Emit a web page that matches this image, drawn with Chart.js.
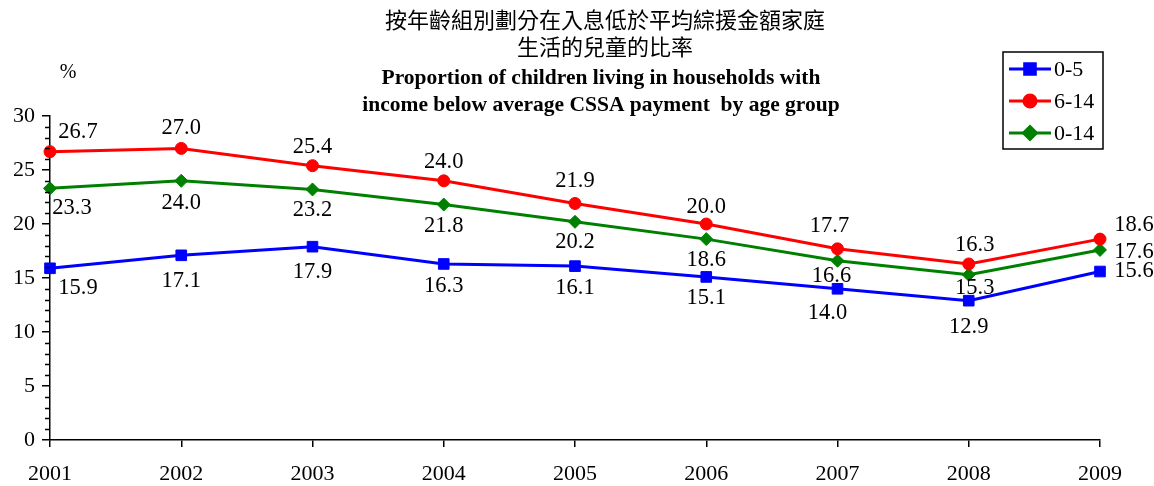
<!DOCTYPE html>
<html>
<head>
<meta charset="utf-8">
<script src="https://cdn.jsdelivr.net/npm/chart.js@4"></script>
<style>
  body { margin: 0; background: #fff; }
  #wrap { width: 1154px; height: 486px; position: relative; }
</style>
</head>
<body>
<div id="wrap"><canvas id="ageChart"></canvas></div>
<script>
const years = ['2001', '2002', '2003', '2004', '2005', '2006', '2007', '2008', '2009'];
const age0to5 = [15.9, 17.1, 17.9, 16.3, 16.1, 15.1, 14.0, 12.9, 15.6];
const age6to14 = [26.7, 27.0, 25.4, 24.0, 21.9, 20.0, 17.7, 16.3, 18.6];
const age0to14 = [23.3, 24.0, 23.2, 21.8, 20.2, 18.6, 16.6, 15.3, 17.6];

// where each value label sits relative to its point [dx, dy]
const labelShift = [
    [[28, 20], [0, 26], [0, 25], [0, 22], [0, 22], [0, 21], [-10, 24], [0, 26], [34, 0]],
    [[28, -20], [0, -20], [0, -19], [0, -19], [0, -22], [0, -17], [-8, -23], [6, -19], [34, -14]],
    [[22, 20], [0, 22], [0, 21], [0, 22], [0, 20], [0, 21], [-6, 15], [6, 13], [34, 2]]
];

const serif = '"Liberation Serif", "Times New Roman", serif';

const titlePlugin = {
    id: 'titles',
    afterDraw(chart) {
        const ctx = chart.ctx;
        ctx.save();
        ctx.fillStyle = '#000';
        ctx.textAlign = 'center';
        ctx.textBaseline = 'middle';
        ctx.font = '22px "Noto Sans CJK TC"';
        ctx.fillText('按年齡組別劃分在入息低於平均綜援金額家庭', 605, 20);
        ctx.fillText('生活的兒童的比率', 605, 47);
        ctx.font = 'bold 21.5px ' + serif;
        ctx.fillText('Proportion of children living in households with', 601, 78);
        ctx.fillText('income below average CSSA payment  by age group', 601, 105);
        ctx.font = '20px ' + serif;
        ctx.fillText('%', 68, 73);
        ctx.restore();
    }
};

const valueLabels = {
    id: 'valueLabels',
    afterDatasetsDraw(chart) {
        const ctx = chart.ctx;
        ctx.save();
        ctx.fillStyle = '#000';
        ctx.font = '22.5px ' + serif;
        ctx.textAlign = 'center';
        ctx.textBaseline = 'middle';
        chart.data.datasets.forEach((ds, di) => {
            const meta = chart.getDatasetMeta(di);
            meta.data.forEach((pt, i) => {
                const s = labelShift[di][i];
                ctx.fillText(ds.data[i].toFixed(1), pt.x + s[0], pt.y + s[1]);
            });
        });
        ctx.restore();
    }
};

const boxLegend = {
    id: 'boxLegend',
    afterDraw(chart) {
        const ctx = chart.ctx;
        ctx.save();
        ctx.strokeStyle = '#000';
        ctx.lineWidth = 1.5;
        ctx.strokeRect(1003, 52, 100, 97);
        ctx.font = '22px ' + serif;
        ctx.textBaseline = 'middle';
        ctx.textAlign = 'left';
        chart.data.datasets.forEach((ds, i) => {
            const y = 69 + i * 32;
            ctx.strokeStyle = ds.borderColor;
            ctx.lineWidth = 3;
            ctx.beginPath();
            ctx.moveTo(1009, y);
            ctx.lineTo(1051, y);
            ctx.stroke();
            ctx.fillStyle = ds.borderColor;
            Chart.helpers.drawPoint(ctx, {
                pointStyle: ds.pointStyle,
                radius: ds.pointRadius,
                borderWidth: 1
            }, 1030, y);
            ctx.fillStyle = '#000';
            ctx.fillText(ds.label, 1054, y + 1);
        });
        ctx.restore();
    }
};

const minorTicks = {
    id: 'minorTicks',
    afterDraw(chart) {
        const ctx = chart.ctx;
        const y = chart.scales.y;
        const left = chart.chartArea.left;
        ctx.save();
        ctx.strokeStyle = '#000';
        ctx.lineWidth = 1.5;
        ctx.beginPath();
        for (let v = 0; v <= 30; v++) {
            if (v % 5 === 0) continue;
            const py = Math.round(y.getPixelForValue(v)) + 0.5;
            ctx.moveTo(left - 5, py);
            ctx.lineTo(left, py);
        }
        ctx.stroke();
        ctx.restore();
    }
};

new Chart(document.getElementById('ageChart'), {
    type: 'line',
    data: {
        labels: years,
        datasets: [
            {
                label: '0-5',
                data: age0to5,
                borderColor: '#0000ff',
                backgroundColor: '#0000ff',
                borderWidth: 3,
                pointStyle: 'rect',
                pointRadius: 7.5,
                pointBorderWidth: 1,
                tension: 0
            },
            {
                label: '6-14',
                data: age6to14,
                borderColor: '#ff0000',
                backgroundColor: '#ff0000',
                borderWidth: 3,
                pointStyle: 'circle',
                pointRadius: 6,
                pointBorderWidth: 1,
                tension: 0
            },
            {
                label: '0-14',
                data: age0to14,
                borderColor: '#008000',
                backgroundColor: '#008000',
                borderWidth: 3,
                pointStyle: 'rectRot',
                pointRadius: 6.5,
                pointBorderWidth: 1,
                tension: 0
            }
        ]
    },
    options: {
        responsive: true,
        maintainAspectRatio: false,
        animation: false,
        layout: {
            padding: { top: 116, right: 54, left: 0, bottom: 0 }
        },
        plugins: {
            legend: { display: false },
            title: { display: false },
            tooltip: { enabled: false }
        },
        scales: {
            x: {
                offset: false,
                grid: {
                    drawOnChartArea: false,
                    tickLength: 7,
                    color: '#000',
                    lineWidth: 1.5
                },
                border: { color: '#000', width: 1.5 },
                ticks: {
                    color: '#000',
                    font: { family: serif, size: 22 },
                    padding: 14,
                    maxRotation: 0
                },
                afterFit(scale) { scale.height = 46; }
            },
            y: {
                min: 0,
                max: 30,
                grid: {
                    drawOnChartArea: false,
                    tickLength: 8,
                    color: '#000',
                    lineWidth: 1.5
                },
                border: { color: '#000', width: 1.5 },
                ticks: {
                    stepSize: 5,
                    color: '#000',
                    font: { family: serif, size: 22 },
                    padding: 7
                },
                afterFit(scale) { scale.width = 50; }
            }
        }
    },
    plugins: [titlePlugin, valueLabels, boxLegend, minorTicks]
});
</script>
</body>
</html>
